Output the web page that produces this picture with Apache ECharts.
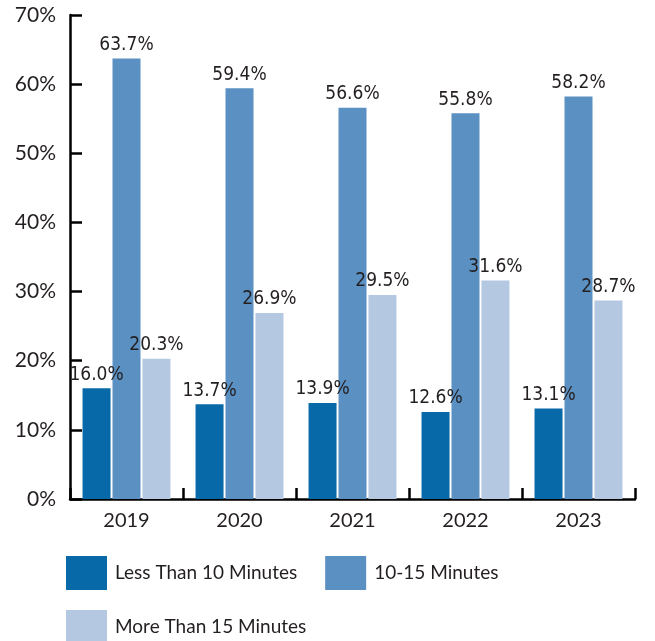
<!DOCTYPE html>
<html><head><meta charset="utf-8">
<script src="https://cdn.jsdelivr.net/npm/echarts@6/dist/echarts.min.js"></script>
<style>html,body{margin:0;padding:0;background:#fff}#c{width:655px;height:641px}</style>
</head><body><div id="c"></div>
<script>
const categories = ['2019','2020','2021','2022','2023'];
const seriesNames = ['Less Than 10 Minutes','10-15 Minutes','More Than 15 Minutes'];
const lessThan10 = [16.0, 13.7, 13.9, 12.6, 13.1];
const tenTo15 = [63.7, 59.4, 56.6, 55.8, 58.2];
const moreThan15 = [20.3, 26.9, 29.5, 31.6, 28.7];
const colors = ['#0869A9', '#5B90C2', '#B4C8E2'];

const chart = echarts.init(document.getElementById('c'));
const labelStyle = {
  show: true, position: 'top', distance: 4,
  fontFamily: '"DejaVu Sans Condensed", "Liberation Sans Narrow", sans-serif',
  fontSize: 19, color: '#231F20',
  formatter: p => p.value.toFixed(1) + '%'
};
function mk(name, data, color) {
  return { name, type: 'bar', data, barWidth: 28, barGap: '7%',
    itemStyle: { color }, label: labelStyle };
}
const legendText = { fontFamily: 'Lato, "Open Sans", sans-serif', fontSize: 19, color: '#231F20', padding: [0, 0, 0, 3] };
chart.setOption({
  animation: false,
  grid: { left: 70, right: 20, top: 15, bottom: 142, containLabel: false },
  legend: [
    { data: [seriesNames[0], seriesNames[1]], left: 66, top: 556, padding: 0, itemWidth: 41, itemHeight: 34, itemGap: 28,
      icon: 'rect', textStyle: legendText },
    { data: [seriesNames[2]], left: 66, top: 610, padding: 0, itemWidth: 41, itemHeight: 34,
      icon: 'rect', textStyle: legendText }
  ],
  xAxis: {
    type: 'category', data: categories,
    axisLine: { lineStyle: { color: '#000', width: 2.5 } },
    axisTick: { show: true, inside: true, length: 11, lineStyle: { color: '#000', width: 2.5 } },
    axisLabel: { fontFamily: 'Lato, "Open Sans", sans-serif', fontSize: 20, color: '#231F20', margin: 12 }
  },
  yAxis: {
    type: 'value', min: 0, max: 70, interval: 10,
    splitLine: { show: false },
    axisLine: { show: true, lineStyle: { color: '#000', width: 2.5 } },
    axisTick: { show: true, inside: true, length: 12, lineStyle: { color: '#000', width: 2.5 } },
    axisLabel: { fontFamily: 'Lato, "Open Sans", sans-serif', fontSize: 21, color: '#231F20', margin: 14,
      formatter: v => v + '%', padding: [8,0,0,0] }
  },
  series: [mk(seriesNames[0], lessThan10, colors[0]), mk(seriesNames[1], tenTo15, colors[1]), mk(seriesNames[2], moreThan15, colors[2])]
});
</script></body></html>
